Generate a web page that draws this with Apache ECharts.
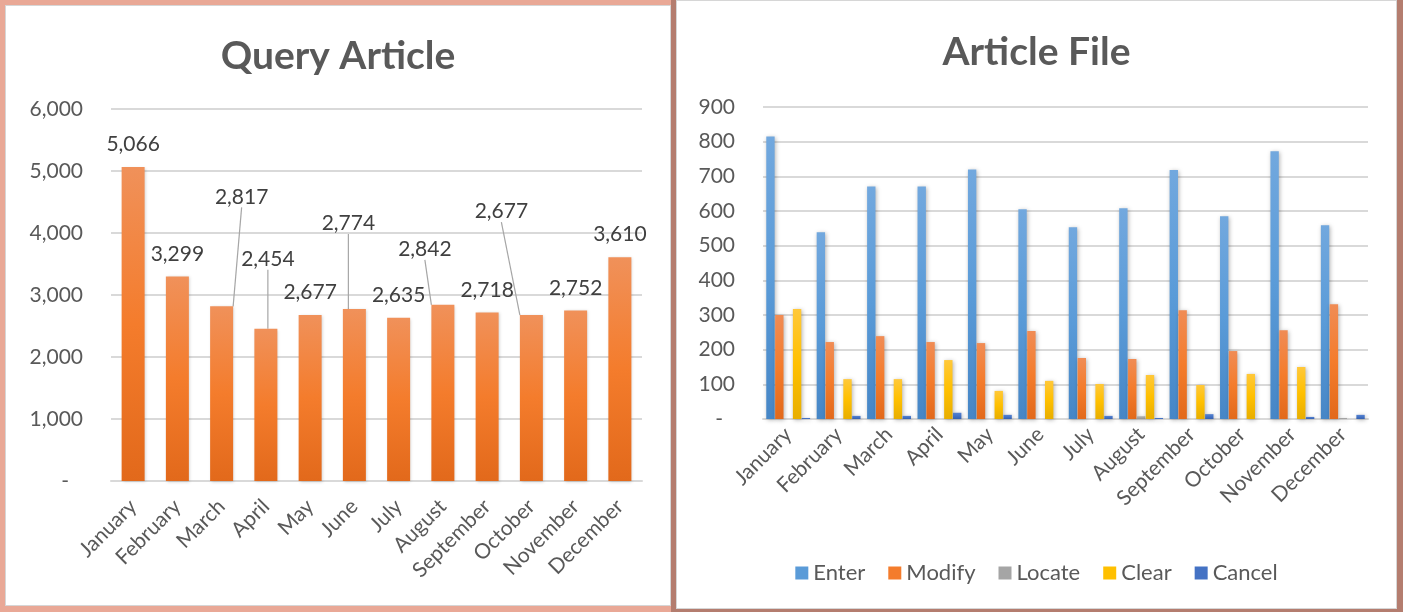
<!DOCTYPE html>
<html>
<head>
<meta charset="utf-8">
<script src="https://cdn.jsdelivr.net/npm/echarts@6.0.0/dist/echarts.min.js"></script>
<style>
  html, body { margin: 0; padding: 0; }
  body {
    width: 1403px;
    height: 612px;
    position: relative;
    overflow: hidden;
    background: #e9a896;
  }
  .card {
    position: absolute;
    background: #fff;
    box-sizing: border-box;
    border: 1px solid #d6d6d6;
  }
  #left { left: 5px; top: 5px; width: 666px; height: 601px; }
  #right { left: 676px; top: 0; width: 721px; height: 609px; }
  .strip { position: absolute; background: #b47d6f; }
</style>
</head>
<body>
<div class="strip" style="left:671px;top:0;width:5px;height:612px"></div>
<div class="strip" style="left:1397px;top:0;width:6px;height:612px"></div>
<div class="strip" style="left:676px;top:609px;width:727px;height:3px"></div>
<div class="card" id="left"></div>
<div class="card" id="right"></div>
<script>
const months = ['January', 'February', 'March', 'April', 'May', 'June', 'July',
  'August', 'September', 'October', 'November', 'December']

// Query Article
const queryValues = [5066, 3299, 2817, 2454, 2677, 2774, 2635, 2842, 2718, 2677, 2752, 3610]

// Article File
const fileSeriesNames = ['Enter', 'Modify', 'Locate', 'Clear', 'Cancel']
const enterValues = [815, 539, 671, 671, 720, 605, 553, 608, 718, 585, 772, 559]
const modifyValues = [300, 222, 239, 222, 219, 254, 176, 173, 314, 196, 256, 331]
const locateValues = [0, 0, 0, 0, 0, 0, 0, 8, 0, 0, 0, 3]
const clearValues = [317, 115, 115, 170, 81, 110, 101, 127, 98, 130, 150, 0]
const cancelValues = [3, 9, 9, 18, 12, 0, 9, 3, 14, 0, 6, 12]

// where the moved data labels sit (dx, dy from their normal spot)
const labelShiftX = [0, 0, 20, 2, 0, -6, 0, -18, 0, -30, 0, 0]
const labelShiftY = [0, 0, -87, -47, 0, -63, 0, -33, 0, -81, 0, 0]

const FONT = 'Lato, "Open Sans", sans-serif'
const TEXT = '#595959'
const GRID = '#d9d9d9'
const FS = 21

function grad(top, mid, bottom) {
  return new echarts.graphic.LinearGradient(0, 0, 0, 1, [
    { offset: 0, color: top },
    { offset: 0.5, color: mid },
    { offset: 1, color: bottom },
  ])
}

function fmt(v) {
  return v === 0 ? '{z|-}' : v.toLocaleString('en-US')
}

// ---- left chart ----
const leftChart = echarts.init(document.getElementById('left'))
leftChart.setOption({
  animation: false,
  textStyle: { fontFamily: FONT },
  title: {
    text: 'Query Article',
    left: 'center',
    top: 26,
    textStyle: { fontFamily: FONT, fontSize: 39, fontWeight: 'bold', color: TEXT },
  },
  grid: { left: 105, right: 28, top: 103, bottom: 124 },
  xAxis: {
    type: 'category',
    data: months,
    axisTick: { show: false },
    axisLine: { lineStyle: { color: GRID, width: 2 } },
    axisLabel: { rotate: 45, margin: 22, fontSize: FS, color: TEXT, fontFamily: FONT, interval: 0 },
  },
  yAxis: {
    type: 'value',
    min: 0,
    max: 6000,
    interval: 1000,
    axisLine: { show: false },
    axisTick: { show: false },
    splitLine: { lineStyle: { color: GRID, width: 2 } },
    axisLabel: {
      margin: 28,
      fontSize: FS,
      color: TEXT,
      fontFamily: FONT,
      formatter: fmt,
      rich: { z: { fontSize: FS, color: TEXT, padding: [0, 14, 0, 0] } },
    },
  },
  series: [{
    type: 'bar',
    data: queryValues.map((v, i) => ({
      value: v,
      labelLine: { show: labelShiftY[i] !== 0 },
    })),
    barWidth: 23,
    itemStyle: {
      color: grad('#f0915a', '#f47c2c', '#e2691b'),
      shadowColor: 'rgba(0,0,0,0.18)',
      shadowBlur: 3,
      shadowOffsetX: 1,
      shadowOffsetY: 1,
    },
    label: {
      show: true,
      position: 'top',
      distance: 12,
      fontSize: FS,
      color: '#404040',
      fontFamily: FONT,
      formatter: p => p.value.toLocaleString('en-US'),
    },
    labelLine: { lineStyle: { color: '#a6a6a6', width: 1.2 } },
    labelLayout: p => ({ dx: labelShiftX[p.dataIndex], dy: labelShiftY[p.dataIndex] }),
  }],
})

// ---- right chart ----
const fileData = [enterValues, modifyValues, locateValues, clearValues, cancelValues]
const fileColors = [
  ['#72a8de', '#5a9bd8', '#4686c6'],
  ['#f08c55', '#f47c2c', '#e2691b'],
  ['#b2b2b2', '#a5a5a5', '#939393'],
  ['#ffc83a', '#ffc000', '#e8ae00'],
  ['#5683d2', '#4472c4', '#3561b0'],
]

const rightChart = echarts.init(document.getElementById('right'))
rightChart.setOption({
  animation: false,
  textStyle: { fontFamily: FONT },
  title: {
    text: 'Article File',
    left: 'center',
    top: 27,
    textStyle: { fontFamily: FONT, fontSize: 39, fontWeight: 'bold', color: TEXT },
  },
  legend: {
    left: 'center',
    top: 556,
    icon: 'rect',
    itemWidth: 13,
    itemHeight: 13,
    itemGap: 23,
    textStyle: { fontSize: 22, color: TEXT, fontFamily: FONT },
    data: fileSeriesNames.map((n, i) => ({ name: n, itemStyle: { color: fileColors[i][1] } })),
  },
  grid: { left: 86, right: 28, top: 106, bottom: 189 },
  xAxis: {
    type: 'category',
    data: months,
    axisTick: { show: false },
    axisLine: { lineStyle: { color: GRID, width: 2 } },
    axisLabel: { rotate: 45, margin: 12, fontSize: FS, color: TEXT, fontFamily: FONT, interval: 0 },
  },
  yAxis: {
    type: 'value',
    min: 0,
    max: 900,
    interval: 100,
    axisLine: { show: false },
    axisTick: { show: false },
    splitLine: { lineStyle: { color: GRID, width: 2 } },
    axisLabel: {
      margin: 28,
      fontSize: FS,
      color: TEXT,
      fontFamily: FONT,
      formatter: fmt,
      rich: { z: { fontSize: FS, color: TEXT, padding: [0, 12, 0, 0] } },
    },
  },
  series: fileSeriesNames.map((name, i) => ({
    name,
    type: 'bar',
    data: fileData[i],
    barGap: '6%',
    barCategoryGap: '13%',
    itemStyle: {
      color: grad(...fileColors[i]),
      shadowColor: 'rgba(0,0,0,0.3)',
      shadowBlur: 4,
      shadowOffsetX: 1,
      shadowOffsetY: 1,
    },
  })),
})
</script>
</body>
</html>
